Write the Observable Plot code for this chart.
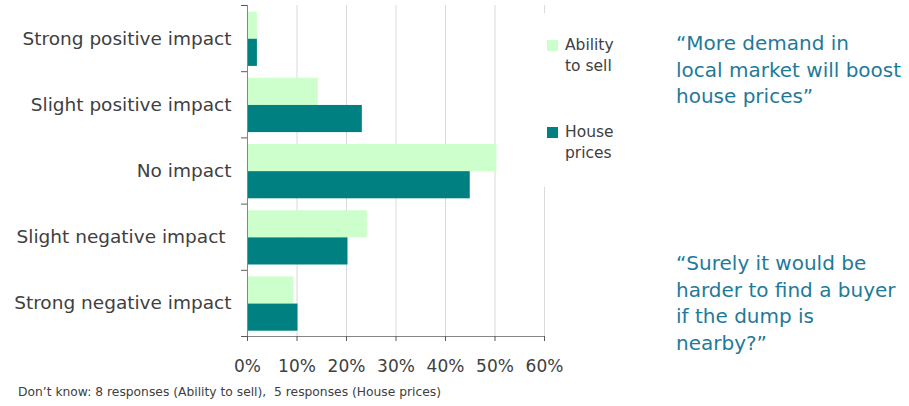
<!DOCTYPE html>
<html><head><meta charset="utf-8">
<script src="https://cdn.jsdelivr.net/npm/d3@7"></script>
<script src="https://cdn.jsdelivr.net/npm/@observablehq/plot@0.6"></script>
<style>
body{margin:0;background:#fff;font-family:"DejaVu Sans",sans-serif;}
#wrap{position:relative;width:909px;height:406px;overflow:hidden;}
#chart{position:absolute;left:0;top:0;}
#legend{position:absolute;left:540px;top:13px;width:82px;height:174px;background:#fff;}
.lg{position:absolute;left:7px;display:flex;align-items:flex-start;color:#404040;font-size:15.5px;line-height:21px;}
.sw{width:11px;height:11px;margin-right:7px;margin-top:5px;flex:none;}
.quote{position:absolute;left:676px;color:#1f7a9a;font-size:20px;line-height:26.5px;white-space:pre;}
#footer{position:absolute;left:18px;top:385px;font-size:12.3px;color:#404040;white-space:pre;}
</style></head>
<body><div id="wrap"><div id="chart"></div><div id="legend"></div>
<div class="quote" id="q1" style="top:30px"></div>
<div class="quote" id="q2" style="top:250px"></div>
<div id="footer"></div></div>
<script>
const categories = ["Strong positive impact","Slight positive impact","No impact","Slight negative impact\u00a0","Strong negative impact"];
const series = ["Ability to sell","House prices"];
const seriesLabels = ["Ability\nto sell","House\nprices"];
const abilityToSell = [0.02,0.143,0.504,0.242,0.094];
const housePrices = [0.02,0.232,0.45,0.203,0.102];
const xTicks = [0,0.1,0.2,0.3,0.4,0.5,0.6];
const colors = ["#ccffcc","#008080"];
const quote1 = "\u201cMore demand in\nlocal market will boost\nhouse prices\u201d";
const quote2 = "\u201cSurely it would be\nharder to find a buyer\nif the dump is\nnearby?\u201d";
const footer = "Don\u2019t know: 8 responses (Ability to sell),  5 responses (House prices)";

const rows = categories.flatMap((c,i)=>[
  {category:c, i, s:0, series:series[0], value:abilityToSell[i]},
  {category:c, i, s:1, series:series[1], value:housePrices[i]}
]);
const gapTop = 0.1, barH = 0.41;

const plot = Plot.plot({
  width:909, height:380,
  marginLeft:247, marginRight:365, marginTop:5, marginBottom:44,
  style:{fontFamily:"DejaVu Sans, sans-serif", color:"#404040", background:"transparent"},
  x:{domain:[0,0.6], axis:null},
  y:{domain:[0,categories.length], reverse:true, axis:null},
  color:{domain:series, range:colors},
  marks:[
    Plot.gridX(xTicks.slice(1), {stroke:"#d9d9d9", strokeOpacity:1}),
    Plot.rectX(rows, {x1:0, x2:"value", y1:d=>d.i+gapTop+d.s*barH, y2:d=>d.i+gapTop+(d.s+1)*barH, fill:"series"}),
    Plot.ruleX([0], {stroke:"#868686"}),
    Plot.ruleY([categories.length], {stroke:"#868686"}),
    Plot.ruleY(d3.range(categories.length+1), {x1:-0.012, x2:0, stroke:"#595959"}),
    Plot.axisX({ticks:xTicks, tickFormat:d3.format(".0%"), tickSize:5, tickPadding:18, fontSize:17, stroke:"#595959", label:null}),
    Plot.text(categories, {x:0, y:(d,i)=>i+0.5, text:d=>d, textAnchor:"end", dx:-16, fontSize:18.5, fill:"#404040"})
  ]
});
document.getElementById("chart").appendChild(plot);

const lg = document.getElementById("legend");
series.forEach((s,k)=>{
  const d = document.createElement("div");
  d.className="lg"; d.style.top = (k===0?22:109)+"px";
  const sw = document.createElement("div"); sw.className="sw"; sw.style.background = colors[k];
  const t = document.createElement("div"); t.style.whiteSpace="pre"; t.textContent = seriesLabels[k];
  d.appendChild(sw); d.appendChild(t); lg.appendChild(d);
});
document.getElementById("q1").textContent = quote1;
document.getElementById("q2").textContent = quote2;
document.getElementById("footer").textContent = footer;
</script></body></html>
